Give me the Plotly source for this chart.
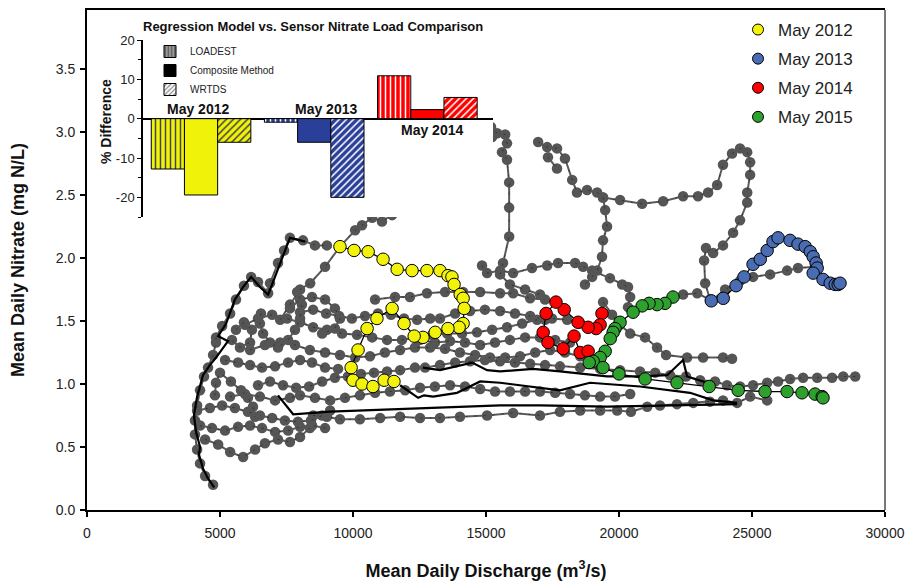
import plotly.graph_objects as go

FONT = "Arial, Liberation Sans, sans-serif"

# ---------------- main chart data (discharge m3/s, nitrate mg N/L) ----------------
may2012 = [(9510, 2.09), (10040, 2.06), (10570, 2.05), (11130, 1.99), (11660, 1.91), (12220, 1.90),
           (12780, 1.90), (13270, 1.90), (13570, 1.86), (13720, 1.85), (13800, 1.79), (14030, 1.71),
           (14140, 1.68), (14180, 1.60), (14140, 1.48), (13990, 1.45), (13570, 1.44), (13090, 1.41),
           (12630, 1.37), (12300, 1.38), (11920, 1.48), (11470, 1.60), (10900, 1.52), (10530, 1.44),
           (10190, 1.27), (9930, 1.13), (10000, 1.03), (10340, 1.00), (10750, 0.98), (11170, 1.03),
           (11540, 1.02)]
may2013 = [(23470, 1.66), (23920, 1.68), (24400, 1.78), (24700, 1.85), (25040, 1.95), (25310, 1.99),
           (25570, 2.06), (25790, 2.13), (25980, 2.16), (26430, 2.14), (26730, 2.11), (27000, 2.09),
           (27190, 2.05), (27300, 2.01), (27410, 1.96), (27450, 1.92), (27300, 1.88), (27670, 1.83),
           (27940, 1.80), (28130, 1.79), (28240, 1.79), (28310, 1.80)]
may2014 = [(19360, 1.56), (19290, 1.47), (19140, 1.44), (18840, 1.45), (18460, 1.49), (17940, 1.59),
           (17630, 1.65), (17260, 1.56), (17150, 1.41), (17330, 1.33), (17900, 1.28), (18310, 1.38),
           (18540, 1.25), (18840, 1.26)]
may2015 = [(22030, 1.69), (21730, 1.64), (21430, 1.63), (21130, 1.64), (20870, 1.62), (20530, 1.57),
           (20040, 1.49), (19850, 1.44), (19780, 1.41), (19670, 1.36), (19480, 1.26), (19290, 1.21),
           (19030, 1.18), (18880, 1.17), (19400, 1.13), (20000, 1.08), (20980, 1.04), (22180, 1.01),
           (23390, 0.98), (24480, 0.95), (25490, 0.94), (26320, 0.94), (26880, 0.93), (27370, 0.92),
           (27640, 0.90), (27670, 0.89)]

# other years (grey trajectories)
gray_top = [(7260, 1.51), (7630, 1.63), (8010, 1.75), (8390, 1.80), (8950, 1.93), (9510, 2.09),
            (10080, 2.22), (10340, 2.26), (10720, 2.32), (11090, 2.29), (11470, 2.34), (11880, 2.40),
            (12410, 2.54), (13010, 2.64), (13570, 2.69), (14100, 2.75), (14550, 2.83), (15000, 2.91),
            (15230, 2.96), (15190, 3.04), (15420, 2.99), (15720, 2.98), (15790, 2.91), (15600, 2.84),
            (15790, 2.78), (15870, 2.60), (15870, 2.40), (15870, 2.17), (15640, 1.96), (15530, 1.87),
            (15900, 1.79), (16470, 1.75), (17030, 1.71)]
gray_right = [(16960, 2.92), (17300, 2.88), (17670, 2.87), (17970, 2.79), (18240, 2.62), (18420, 2.52),
              (18800, 2.54), (19180, 2.52), (19400, 2.48), (20040, 2.46), (20870, 2.43), (21660, 2.45),
              (22410, 2.49), (22970, 2.49), (23350, 2.52), (23690, 2.58), (23910, 2.74), (24250, 2.83),
              (24550, 2.87), (24820, 2.84), (24930, 2.76), (24930, 2.66), (24820, 2.52), (24820, 2.44),
              (24550, 2.30), (24290, 2.20), (23910, 2.10), (23540, 2.04), (23270, 2.08), (23200, 1.98),
              (23240, 1.80), (23420, 1.67), (22940, 1.72), (22410, 1.71), (22030, 1.69)]
gray_hook = [(17330, 2.80), (17670, 2.71)]
gray_under_2013 = [(27370, 1.93), (26730, 1.92), (26320, 1.90), (25680, 1.87), (25040, 1.85),
                   (24550, 1.82), (23990, 1.75), (23470, 1.66)]
gray_vertical = [(19400, 2.48), (19480, 2.38), (19550, 2.25), (19400, 2.14), (19360, 2.01),
                 (19180, 1.90), (18990, 1.85), (18720, 1.79)]
gray_row_196 = [(14850, 1.94), (15040, 1.88), (15530, 1.90), (16020, 1.88), (16730, 1.92), (17300, 1.94),
                (17710, 1.96), (18350, 1.96), (18650, 1.93), (18990, 1.90), (19660, 1.84), (20120, 1.79),
                (20340, 1.77), (20420, 1.69), (20340, 1.61)]
gray_row_172 = [(10830, 1.67), (11580, 1.69), (12140, 1.69), (12780, 1.72), (13460, 1.73), (14140, 1.73),
                (14780, 1.73), (15530, 1.72), (16020, 1.72), (16660, 1.68), (17220, 1.67)]
gray_diag_mid = [(19400, 1.65), (19740, 1.55), (20040, 1.47), (20420, 1.40), (20980, 1.37), (21430, 1.29),
                 (21770, 1.23), (22560, 1.21), (23160, 1.21), (23910, 1.21), (24250, 1.20)]
gray_row_110 = [(28880, 1.06), (28430, 1.06), (28010, 1.05), (27450, 1.05), (26920, 1.05), (26430, 1.04),
                (25980, 1.02), (25570, 1.01), (25040, 0.99), (24550, 0.98), (24060, 0.99), (23610, 1.02),
                (23050, 1.03), (22520, 1.06), (21920, 1.07), (21360, 1.09), (20790, 1.10), (20040, 1.11),
                (19290, 1.12), (18540, 1.13), (17780, 1.14), (17220, 1.15), (16660, 1.16), (16090, 1.17),
                (15530, 1.18), (14960, 1.19), (14400, 1.18), (13840, 1.17), (13270, 1.15), (12710, 1.13)]
gray_row_075 = [(8500, 0.75), (9020, 0.74), (9510, 0.72), (10260, 0.72), (11020, 0.73), (11770, 0.74),
                (12520, 0.73), (13270, 0.73), (14020, 0.74), (15040, 0.75), (16020, 0.77), (17030, 0.75),
                (17780, 0.78), (18540, 0.79), (19290, 0.79), (19930, 0.79), (20450, 0.78), (21060, 0.82),
                (21540, 0.83), (22180, 0.84), (22790, 0.85), (23420, 0.86), (23910, 0.87), (24440, 0.85),
                (24930, 0.90), (25570, 0.87)]
gray_row_093 = [(5380, 0.90), (5940, 0.92), (6500, 0.90), (7070, 0.87), (7630, 0.89),
                (8010, 0.91), (8570, 0.89), (9140, 0.87), (9700, 0.89), (10260, 0.91), (10830, 0.93),
                (11390, 0.94), (11960, 0.95), (12520, 0.97), (13080, 0.98), (13650, 0.99), (14210, 0.98),
                (14780, 0.96), (15340, 0.94), (15900, 0.94), (16470, 0.94), (17030, 0.94), (17600, 0.93),
                (18160, 0.92), (18720, 0.91), (19290, 0.90), (19850, 0.90), (20420, 0.92)]
gray_row_125 = [(6130, 1.27), (6690, 1.31), (7260, 1.33), (7820, 1.31), (8380, 1.27), (8950, 1.25),
                (9510, 1.23), (10080, 1.21), (10640, 1.22), (11200, 1.25), (11770, 1.27), (12330, 1.29),
                (12900, 1.29), (13460, 1.28), (14020, 1.25), (14590, 1.23), (15150, 1.21), (15720, 1.21),
                (16280, 1.22), (16850, 1.25), (17410, 1.27), (17970, 1.25), (18540, 1.22), (19100, 1.19)]
gray_row_134 = [(12520, 1.35), (13080, 1.33), (13650, 1.34), (14210, 1.33), (14780, 1.31), (15340, 1.33),
                (15900, 1.35), (16470, 1.37), (17030, 1.37), (17600, 1.35), (18160, 1.33)]
gray_row_140 = [(5940, 1.47), (6430, 1.52), (6960, 1.55), (7520, 1.52), (8010, 1.49), (8500, 1.45),
                (9020, 1.43), (9590, 1.40), (10150, 1.39), (10720, 1.37), (11280, 1.35), (11840, 1.35),
                (12410, 1.37), (12970, 1.39), (13540, 1.40), (14100, 1.40), (14660, 1.41), (15230, 1.43),
                (15790, 1.45), (16360, 1.48), (16920, 1.51), (17480, 1.52), (18050, 1.51), (18540, 1.48)]
gray_row_155 = [(8010, 1.57), (8500, 1.59), (8990, 1.56), (9480, 1.54), (9960, 1.52), (10450, 1.54),
                (10940, 1.56), (11430, 1.55), (11920, 1.52), (12410, 1.51), (12900, 1.52)]
gray_row_156 = [(13270, 1.52), (13840, 1.56), (14400, 1.58), (14960, 1.59), (15530, 1.58), (16090, 1.56),
                (16660, 1.54), (17220, 1.51)]
gray_loop_a = [(7630, 1.60), (8010, 1.67), (8460, 1.69), (8950, 1.67), (9320, 1.60), (9510, 1.52),
               (9320, 1.44), (8840, 1.40)]
gray_loop_b = [(6540, 1.56), (6500, 1.48), (6620, 1.40), (6880, 1.33), (7180, 1.29), (7560, 1.35),
               (7820, 1.43), (8010, 1.52), (8080, 1.63), (7900, 1.73)]
gray_loop_c = [(5600, 1.43), (5900, 1.49), (6200, 1.43), (6130, 1.33), (5750, 1.29), (5450, 1.35)]
gray_left = [(4740, 0.20), (4440, 0.27), (4250, 0.37), (4140, 0.48), (4060, 0.60), (4060, 0.71),
             (4140, 0.83), (4250, 0.95), (4400, 1.06), (4550, 1.13), (4740, 1.23), (4850, 1.33),
             (4850, 1.37), (5080, 1.46), (5380, 1.56), (5600, 1.67), (5900, 1.78), (6170, 1.85),
             (6430, 1.81), (6810, 1.72), (6880, 1.80), (7180, 1.96), (7410, 2.06), (7630, 2.16),
             (8120, 2.14), (8570, 2.10), (9020, 2.10)]
gray_cl1 = [(4140, 0.79), (4620, 0.81), (5080, 0.83), (5560, 0.81), (6050, 0.78), (6500, 0.75),
            (6960, 0.73), (7440, 0.71), (7930, 0.70), (8420, 0.71), (8840, 0.75), (9140, 0.79)]
gray_cl2 = [(4250, 0.67), (4700, 0.65), (5190, 0.63), (5680, 0.66), (6130, 0.67), (6580, 0.65),
            (7070, 0.62), (7560, 0.63), (8010, 0.66), (8460, 0.67), (8950, 0.65)]
gray_cl3 = [(4440, 0.56), (4930, 0.52), (5380, 0.46), (5870, 0.42), (6320, 0.48), (6690, 0.53),
            (7180, 0.56), (7630, 0.54), (8010, 0.58), (8380, 0.65)]
gray_cl4 = [(4810, 0.91), (4850, 1.01), (5000, 1.09), (5410, 1.02), (5790, 0.95), (6050, 0.89),
            (6240, 0.82), (6320, 0.74)]
gray_cl5 = [(6430, 0.99), (6880, 1.02), (7370, 0.99), (7860, 0.97), (8350, 0.98), (8840, 1.02),
            (9320, 1.05), (9810, 1.06), (10300, 1.08), (10790, 1.09), (11280, 1.10), (11770, 1.11),
            (12330, 1.13)]
gray_cl6 = [(5190, 1.19), (5680, 1.17), (6130, 1.15), (6580, 1.13), (7070, 1.14), (7560, 1.17),
            (8010, 1.19), (8460, 1.17), (8950, 1.13), (9440, 1.12)]

# lines drawn without markers
black_left = [(4780, 0.18), (4550, 0.25), (4360, 0.33), (4210, 0.44), (4250, 0.50), (4100, 0.62),
              (4020, 0.75), (4140, 0.90), (4360, 1.07), (4620, 1.15), (4850, 1.21), (5300, 1.34),
              (4930, 1.38), (5230, 1.48), (5560, 1.67), (5870, 1.77), (6170, 1.85), (6500, 1.77),
              (6810, 1.71), (7180, 1.92), (7630, 2.16), (8200, 2.13)]
black_low = [(7180, 0.91), (7750, 0.76), (9140, 0.78), (10530, 0.79), (13010, 0.81), (15530, 0.83),
             (17030, 0.83), (19550, 0.82), (22030, 0.83), (24440, 0.84)]
black_mid = [(12630, 1.13), (13270, 1.11), (14480, 1.17), (15040, 1.11), (15530, 1.10), (16770, 1.12),
             (17780, 1.10), (19550, 1.06), (20790, 1.06), (21810, 1.07), (22410, 1.19), (22560, 1.06),
             (23310, 1.01)]
black_slope = [(11770, 0.99), (12450, 0.89), (12670, 0.91), (13010, 0.90), (13910, 0.93), (14780, 1.02),
               (15530, 1.01), (16770, 0.98), (17780, 0.95), (18910, 1.01), (20790, 0.98), (22670, 0.93),
               (23540, 0.87), (24440, 0.85)]

x_tick_vals = [0, 5000, 10000, 15000, 20000, 25000, 30000]
y_tick_vals = [0.0, 0.5, 1.0, 1.5, 2.0, 2.5, 3.0, 3.5]

# ---------------- inset data (% difference) ----------------
inset_groups = [0, 1, 2]
inset_labels = ["May 2012", "May 2013", "May 2014"]
loadest = [-12.8, -0.9, 10.9]
composite = [-19.4, -6.0, 2.3]
wrtds = [-6.0, -20.0, 5.4]
inset_tick_vals = [-20, -10, 0, 10, 20]
inset_tick_text = ["-20", "-10", "0", "10", "20"]

YELLOW = "#F2F20A"
BLUE_PT = "#4A6CB3"
RED = "#FF0000"
GREEN = "#2EA02E"
BAR_COLORS = ["#F0F20A", "#2A3F99", "#FF0000"]
GRAY = "#555555"
GRAY_LINE = "#5E5A58"

fig = go.Figure()

gray_paths = [gray_row_075, gray_row_093, gray_row_110, gray_row_125, gray_row_134, gray_row_140,
              gray_row_155, gray_row_156, gray_row_172, gray_row_196, gray_cl1, gray_cl2, gray_cl3,
              gray_cl4, gray_cl5, gray_cl6, gray_loop_a, gray_loop_b, gray_loop_c, gray_left, gray_top,
              gray_right, gray_hook, gray_under_2013, gray_vertical, gray_diag_mid]
for path in gray_paths:
    xs, ys = zip(*path)
    fig.add_trace(go.Scatter(x=xs, y=ys, mode="lines+markers", showlegend=False,
                             line=dict(color=GRAY_LINE, width=2),
                             marker=dict(color=GRAY, size=10.5, line=dict(width=0)),
                             hoverinfo="skip"))
    fig.add_trace(go.Scatter(x=xs, y=ys, mode="lines", showlegend=False,
                             line=dict(color="rgba(20,20,20,0.55)", width=1, dash="2px,7px"),
                             hoverinfo="skip"))

for path in [black_left, black_low, black_mid, black_slope]:
    xs, ys = zip(*path)
    fig.add_trace(go.Scatter(x=xs, y=ys, mode="lines", showlegend=False,
                             line=dict(color="black", width=2.2), hoverinfo="skip"))

for i, (name, path, col) in enumerate([("May 2012", may2012, YELLOW), ("May 2013", may2013, BLUE_PT),
                                       ("May 2014", may2014, RED), ("May 2015", may2015, GREEN)]):
    xs, ys = zip(*path)
    fig.add_trace(go.Scatter(x=xs, y=ys, mode="lines+markers", showlegend=False,
                             line=dict(color="black", width=1.3),
                             marker=dict(color=col, size=12.5, line=dict(color="black", width=1))))
    fig.add_trace(go.Scatter(x=[None], y=[None], mode="markers", name=name, legend="legend",
                             legendgroup="g%d" % i,
                             marker=dict(color=col, size=11, line=dict(color="black", width=1))))

# ---------------- inset bars ----------------
for name, vals, shape, grp in [("LOADEST", loadest, "|", "a"), ("Composite Method", composite, "", "b"),
                               ("WRTDS", wrtds, "/", "c")]:
    fig.add_trace(go.Bar(x=inset_groups, y=vals, xaxis="x2", yaxis="y2", showlegend=False,
                         offsetgroup=grp,
                         marker=dict(color=BAR_COLORS, line=dict(color="black", width=1),
                                     pattern=dict(shape=shape, fgcolor="black", size=5,
                                                  solidity=0.3, fgopacity=1,
                                                  fillmode="overlay"))))
for name, col, shape, grp in [("LOADEST", "#9a9a9a", "|", "a"), ("Composite Method", "black", "", "b"),
                              ("WRTDS", "white", "/", "c")]:
    fig.add_trace(go.Bar(x=[None], y=[None], xaxis="x2", yaxis="y2", name=name, legend="legend2",
                         offsetgroup=grp,
                         marker=dict(color=col, line=dict(color="black", width=1),
                                     pattern=dict(shape=shape, fgcolor="black", size=4,
                                                  solidity=0.35, fillmode="overlay"))))

W, H = 907, 581
L, R, T, B = 87, 22, 10, 71
pw, ph = W - L - R, H - T - B


def px_x(p):
    return (p - L) / pw


def px_y(p):
    return (H - B - p) / ph


def ann(text, x, y, size, xref="paper", yref="paper", angle=0):
    return dict(text=text, xref=xref, yref=yref, x=x, y=y, xanchor="center", yanchor="middle",
                showarrow=False, textangle=angle, font=dict(size=size, family=FONT, color="#111"))


fig.update_layout(
    width=W, height=H, autosize=False,
    margin=dict(l=L, r=R, t=T, b=B, pad=0, autoexpand=False),
    paper_bgcolor="white", plot_bgcolor="white",
    font=dict(family=FONT, color="#222222", size=14),
    barmode="group", bargap=0.12, bargroupgap=0,
    xaxis=dict(range=[0, 30000], tickvals=x_tick_vals, tickformat="d", showgrid=False, zeroline=False,
               showline=True, linecolor="black", linewidth=2, mirror=True, automargin=False,
               ticks="outside", ticklen=5, tickcolor="black", tickwidth=1.5, ticklabelstandoff=4,
               tickfont=dict(size=14, family=FONT, color="#222"),
               title=dict(text="<b>Mean Daily Discharge (m<sup>3</sup>/s)</b>", standoff=25,
                          font=dict(size=18, family=FONT, color="#111"))),
    yaxis=dict(range=[0, ph / 126.0], tickvals=y_tick_vals, tickformat=".1f", showgrid=False,
               zeroline=False, showline=True, linecolor="black", linewidth=2, automargin=False,
               ticks="outside", ticklen=5, tickcolor="black", tickwidth=1.5, ticklabelstandoff=2,
               tickfont=dict(size=14, family=FONT, color="#222"),
               title=dict(text="<b>Mean Daily Nitrate (mg N/L)</b>", standoff=26,
                          font=dict(size=18, family=FONT, color="#111"))),
    xaxis2=dict(domain=[px_x(143), px_x(493)], range=[-0.513, 2.58], anchor="y2", automargin=False,
                showticklabels=False, showgrid=False, zeroline=False, showline=False, ticks=""),
    yaxis2=dict(domain=[px_y(217), px_y(40)], range=[-25, 20], anchor="x2", automargin=False,
                tickvals=inset_tick_vals, ticktext=inset_tick_text, showgrid=False,
                zeroline=True, zerolinecolor="black", zerolinewidth=1.5,
                showline=True, linecolor="black", linewidth=1.5,
                ticks="outside", ticklen=4, tickcolor="black",
                minor=dict(tickvals=[-25, -15, -5, 5, 15], ticks="outside", ticklen=3, tickcolor="black"),
                tickfont=dict(size=13, family=FONT, color="#222")),
    legend=dict(x=px_x(738), xanchor="left", y=px_y(12), yanchor="top",
                bgcolor="rgba(0,0,0,0)", font=dict(size=17, family=FONT, color="#222"),
                itemsizing="trace", tracegroupgap=4),
    legend2=dict(x=px_x(150), xanchor="left", y=px_y(37), yanchor="top",
                 bgcolor="rgba(0,0,0,0)", font=dict(size=10, family=FONT, color="#222"),
                 tracegroupgap=0),
    shapes=[dict(type="line", xref="paper", yref="paper", x0=1, x1=1, y0=0, y1=1,
                 line=dict(color="#777777", width=2))],
    annotations=[
        ann("<b>Regression Model vs. Sensor Nitrate Load Comparison</b>", px_x(313), px_y(26), 13),
        ann("<b>% Difference</b>", px_x(106), px_y(122), 14, angle=-90),
        ann("<b>" + inset_labels[0] + "</b>", -0.03, 2.4, 14, "x2", "y2"),
        ann("<b>" + inset_labels[1] + "</b>", 1.1, 2.4, 14, "x2", "y2"),
        ann("<b>" + inset_labels[2] + "</b>", 2.04, -3.0, 14, "x2", "y2"),
    ],
)

fig.write_html("out.html", config={"displayModeBar": False},
               post_script="document.body.style.margin='0';")
